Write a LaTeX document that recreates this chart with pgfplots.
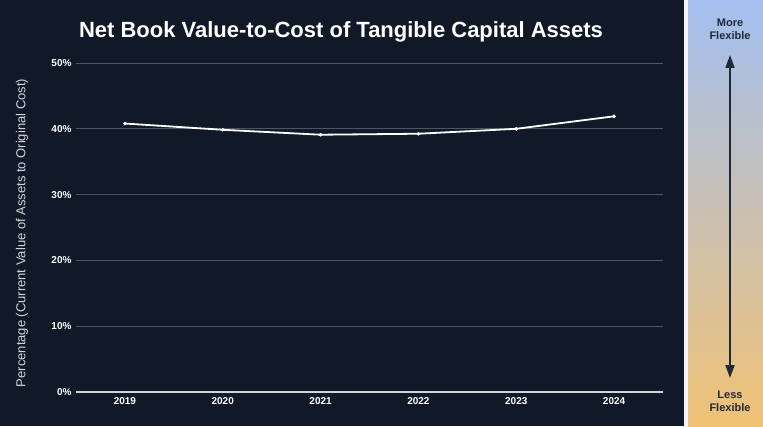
\documentclass[border=0pt]{standalone}
\usepackage{pgfplots}
\pgfplotsset{compat=1.18}
\usepackage{fontspec}
\setmainfont{Liberation Sans}
\usetikzlibrary{arrows.meta}

\definecolor{bgdark}{HTML}{111827}
\definecolor{gridc}{HTML}{4B5563}
\definecolor{basec}{HTML}{D1D5DB}
\definecolor{labelc}{HTML}{D1D5DB}
\definecolor{topblue}{HTML}{A3BFF1}
\definecolor{midgray}{HTML}{E5E5E3}
\definecolor{botorange}{HTML}{F0C274}
\definecolor{sepc}{HTML}{F3F4F6}
\definecolor{arrowc}{HTML}{1F2937}

\begin{document}
\begin{tikzpicture}[x=1pt,y=1pt]
  % backgrounds (1px = 1pt, origin bottom-left)
  \fill[bgdark] (0,0) rectangle (684,426);
  \fill[sepc] (684,0) rectangle (688,426);
  \shade[top color=topblue, middle color=midgray, bottom color=botorange] (688,0) rectangle (763,426);

  \node[text=white, font=\bfseries\fontsize{22}{24}\selectfont] at (341,394) {Net Book Value-to-Cost of Tangible Capital Assets};

  % y axis label
  \node[text=labelc, font=\fontsize{13}{15}\selectfont, rotate=90] at (22,193) {Percentage (Current Value of Assets to Original Cost)};

  \begin{axis}[
    at={(76pt,34pt)}, anchor=south west,
    scale only axis, width=587pt, height=329pt,
    xmin=-0.5, xmax=5.5, ymin=0, ymax=50,
    xtick={0,1,2,3,4,5},
    xticklabels={2019,2020,2021,2022,2023,2024},
    ytick={0,10,20,30,40,50},
    yticklabel={\pgfmathprintnumber{\tick}\%},
    /pgf/number format/assume math mode=true,
    tick style={draw=none},
    axis line style={draw=none},
    ymajorgrids, grid style={gridc, line width=0.8pt},
    ticklabel style={text=white, font=\bfseries\fontsize{10}{12}\selectfont},
    xticklabel style={yshift=-2pt},
    yticklabel style={xshift=-1pt},
    clip=false,
  ]
    \draw[basec, line width=1.2pt] (axis cs:-0.5,0) -- (axis cs:5.5,0);
    \addplot[white, line width=1.8pt, mark=*, mark size=1.6pt, mark options={fill=white, draw=white, line width=0.5pt}] coordinates {
      (0,40.8) (1,39.85) (2,39.1) (3,39.25) (4,40.0) (5,41.9)
    };
  \end{axis}

  % right panel
  \draw[arrowc, line width=1.8pt, {Triangle[width=9pt,length=13pt]}-{Triangle[width=9pt,length=13pt]}] (730,371) -- (730,48);
  \node[text=arrowc, font=\bfseries\fontsize{11}{13}\selectfont, align=center] at (730,397) {More\\Flexible};
  \node[text=arrowc, font=\bfseries\fontsize{11}{13}\selectfont, align=center] at (730,25) {Less\\Flexible};
\end{tikzpicture}
\end{document}
